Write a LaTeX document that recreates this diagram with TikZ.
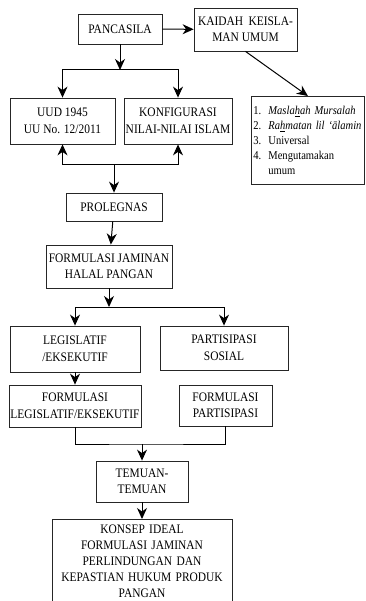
\documentclass[tikz,border=0pt]{standalone}
\usepackage{fontspec}
\setmainfont[FakeStretch=0.88]{Liberation Serif}
\usepackage{tikz}
\usetikzlibrary{arrows.meta}

\tikzset{
  box/.style={draw=black!85, line width=0.8pt, align=center, inner sep=0pt,
    font=\fontsize{13}{16.5}\selectfont},
  arr/.style={-{Stealth[length=11pt,width=10pt,inset=3.5pt]}, line width=1pt},
  link/.style={line width=1pt}
}
\newcommand{\itemno}[2]{\makebox[15pt][l]{#1.}#2}

\begin{document}
\begin{tikzpicture}[x=1pt,y=-1pt]
    \useasboundingbox (0,0) rectangle (365,601);

    % Top: sources
    \node[box, minimum width=84, minimum height=30] (panc) at (120,29) {PANCASILA};
    \node[box, minimum width=103, minimum height=43] (kaidah) at (245.5,29.5)
        {\makebox[95pt]{KAIDAH\hfill KEISLA-}\\MAN UMUM};
    \node[box, anchor=north west, text width=109, minimum height=88,
          inner xsep=2pt, align=left, font=\fontsize{12}{14.8}\selectfont] (list) at (251,96)
        {\itemno{1}{\textit{Masla\underline{h}ah Mursalah}}\\
         \itemno{2}{\textit{Ra\underline{h}matan lil `\={a}lamin}}\\
         \itemno{3}{Universal}\\
         \itemno{4}{Mengutamakan}\\
         \hspace*{15pt}umum};

    \node[box, minimum width=105, minimum height=46] (uud) at (62.5,121) {UUD 1945\\UU No. 12/2011};
    \node[box, minimum width=108, minimum height=46] (konf) at (178,121) {KONFIGURASI\\NILAI-NILAI ISLAM};

    % Middle: legislation process
    \node[box, minimum width=96, minimum height=28] (prol) at (114,207) {PROLEGNAS};
    \node[box, minimum width=126, minimum height=43] (fjh) at (109,266.5) {FORMULASI JAMINAN\\HALAL PANGAN};
    \node[box, minimum width=130, minimum height=46] (leg) at (75,349) {LEGISLATIF\\/EKSEKUTIF};
    \node[box, minimum width=128, minimum height=44] (psos) at (224,348) {PARTISIPASI\\SOSIAL};
    \node[box, minimum width=132, minimum height=42] (fleg) at (75,406) {FORMULASI\\LEGISLATIF/EKSEKUTIF};
    \node[box, minimum width=93, minimum height=41] (fpart) at (225.5,405.5) {FORMULASI\\PARTISIPASI};

    % Bottom: results
    \node[box, minimum width=92, minimum height=41] (tem) at (142,481.5) {TEMUAN-\\TEMUAN};
    \node[box, anchor=north, text width=180, inner ysep=5pt,
          font=\fontsize{13}{16}\selectfont] (konsep) at (142,519)
        {KONSEP IDEAL\\FORMULASI JAMINAN\\PERLINDUNGAN DAN\\KEPASTIAN HUKUM PRODUK\\PANGAN};

    % Junctions
    \coordinate (j1) at (120,70);
    \coordinate (j2) at (prol.north |- 0,165);
    \coordinate (j3) at (fjh.south |- 0,307);
    \coordinate (j4) at (tem.north |- 0,444);

    % Connectors
    \draw[arr] (panc) -- (kaidah);
    \draw[arr] (kaidah.south) -- (list.north);
    \draw[arr] (panc.south) -- (j1);
    \draw[arr] (j1) -| (uud.north);
    \draw[arr] (j1) -| (konf.north);
    \draw[arr] (j2) -| (uud.south);
    \draw[arr] (j2) -| (konf.south);
    \draw[arr] (j2) -- (prol.north);
    \draw[arr] (prol) -- (fjh);
    \draw[arr] (fjh.south) -- (j3);
    \draw[arr] (j3) -| (leg.north);
    \draw[arr] (j3) -| (psos.north);
    \draw[arr] (leg) -- (fleg);
    \draw[link] (fleg.south) |- (j4) -| (fpart.south);
    \draw[arr] (j4) -- (tem.north);
    \draw[arr] (tem) -- (konsep);
\end{tikzpicture}
\end{document}
